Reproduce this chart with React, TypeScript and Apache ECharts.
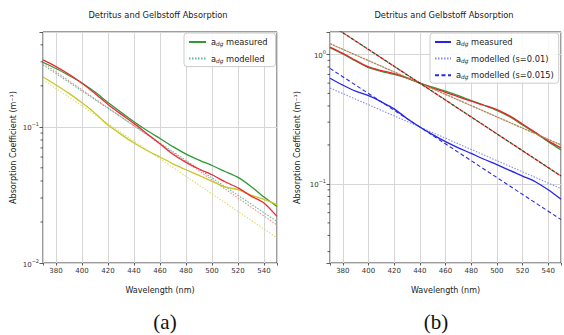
import React, { useEffect, useRef } from 'react';
import * as echarts from 'echarts';

// ---------- data ----------
const X_MIN = 370;
const X_MAX = 550;
const wavelengths = [370, 380, 390, 400, 410, 420, 430, 440, 450, 460, 470, 480, 490, 500, 510, 520, 530, 540, 550];
const modelWavelengths = [370, 460, 550];
const modelWavelengthsB = [370, 440, 550];

// (a) panel
const aGreenMeasured = [0.298, 0.268, 0.238, 0.21, 0.18, 0.151, 0.128, 0.109, 0.094, 0.082, 0.0715, 0.063, 0.057, 0.052, 0.047, 0.0425, 0.0365, 0.0305, 0.026];
const aRedMeasured = [0.31, 0.277, 0.243, 0.209, 0.176, 0.146, 0.124, 0.106, 0.089, 0.075, 0.0628, 0.0548, 0.049, 0.0445, 0.0395, 0.0356, 0.031, 0.0276, 0.022];
const aYellowMeasured = [0.232, 0.203, 0.176, 0.15, 0.126, 0.103, 0.088, 0.076, 0.067, 0.06, 0.0535, 0.0484, 0.044, 0.0398, 0.0362, 0.0346, 0.0315, 0.0293, 0.0268];
const aGreenModel = [0.285, 0.076, 0.0202];
const aRedModel = [0.295, 0.075, 0.019];
const aYellowModel = [0.222, 0.0583, 0.0153];

// (b) panel
const bRedMeasured = [1.14, 1.02, 0.9, 0.8, 0.75, 0.71, 0.66, 0.6, 0.55, 0.51, 0.47, 0.435, 0.405, 0.375, 0.335, 0.29, 0.25, 0.215, 0.19];
const bGreenMeasured = [1.13, 1.01, 0.89, 0.79, 0.74, 0.7, 0.655, 0.6, 0.56, 0.52, 0.48, 0.44, 0.405, 0.37, 0.33, 0.285, 0.248, 0.212, 0.183];
const bBlueMeasured = [0.655, 0.58, 0.52, 0.48, 0.43, 0.38, 0.32, 0.275, 0.24, 0.212, 0.19, 0.172, 0.155, 0.141, 0.127, 0.115, 0.104, 0.09, 0.076];
const bRedGreenModel01 = [1.21, 0.6, 0.2];
const bRedGreenModel015 = [1.71, 0.6, 0.115];
const bBlueModel01 = [0.55, 0.275, 0.092];
const bBlueModel015 = [0.78, 0.275, 0.053];

const aMinorTicks = [0.02, 0.03, 0.04, 0.05, 0.06, 0.07, 0.08, 0.09, 0.2, 0.3, 0.4];
const bMinorTicks = [0.03, 0.04, 0.05, 0.06, 0.07, 0.08, 0.09, 0.2, 0.3, 0.4, 0.5, 0.6, 0.7, 0.8, 0.9];

const TITLE = 'Detritus and Gelbstoff Absorption';
const X_NAME = 'Wavelength (nm)';
const Y_NAME = 'Absorption Coefficient (m⁻¹)';

const legendLabels: Record<string, string> = {
  aGreenMeas: 'a{s|dg} measured',
  aGreenMod: 'a{s|dg} modelled',
  bBlueMeas: 'a{s|dg} measured',
  bBlueMod01: 'a{s|dg} modelled (s=0.01)',
  bBlueMod015: 'a{s|dg} modelled (s=0.015)',
};

const FONT = 'DejaVu Sans';

function pairs(xs: number[], ys: number[]) {
  return xs.map((x, i) => [x, ys[i]]);
}

function line(name: string, xs: number[], ys: number[], color: string, type: any, width: number, idx: number, extra: any = {}) {
  return {
    type: 'line',
    name,
    xAxisIndex: idx,
    yAxisIndex: idx,
    data: pairs(xs, ys),
    symbol: 'none',
    showSymbol: false,
    silent: true,
    lineStyle: { color, type, width, ...(extra.lineStyle || {}) },
    itemStyle: { color },
    ...extra.rest,
  };
}

function minorTickSeries(values: number[], idx: number) {
  return {
    type: 'custom',
    xAxisIndex: idx,
    yAxisIndex: idx,
    silent: true,
    clip: false,
    data: values.map((v) => [X_MIN, v]),
    renderItem: (_p: any, api: any) => {
      const pt = api.coord([api.value(0), api.value(1)]);
      return {
        type: 'line',
        shape: { x1: pt[0] - 2.5, y1: pt[1], x2: pt[0], y2: pt[1] },
        style: { stroke: '#333', lineWidth: 0.8 },
      };
    },
  };
}

const logLabel = (v: number) => {
  const e = Math.log10(v);
  if (Math.abs(e - Math.round(e)) < 1e-6) {
    const r = Math.round(e);
    return `{b|10}{e|${r < 0 ? '−' + -r : r}}`;
  }
  return '';
};

function xAxis(idx: number) {
  return {
    type: 'value',
    gridIndex: idx,
    min: X_MIN,
    max: X_MAX,
    splitNumber: 9,
    name: X_NAME,
    nameLocation: 'middle',
    nameGap: 23,
    nameTextStyle: { fontFamily: FONT, fontSize: 8, color: '#222' },
    axisLine: { show: false },
    axisTick: { show: true, length: 2.5, lineStyle: { color: '#333', width: 0.8 } },
    axisLabel: {
      fontFamily: FONT,
      fontSize: 7,
      color: '#333',
      margin: 4,
      formatter: (v: number) => (v % 20 === 0 && v > X_MIN && v < X_MAX ? String(v) : ''),
    },
    splitLine: { show: true, lineStyle: { color: '#d6d6d6', width: 1 } },
  };
}

function yAxis(idx: number, min: number, max: number, gap: number) {
  return {
    type: 'log',
    logBase: 10,
    gridIndex: idx,
    min,
    max,
    name: Y_NAME,
    nameLocation: 'middle',
    nameGap: gap,
    nameTextStyle: { fontFamily: FONT, fontSize: 8, color: '#222' },
    axisLine: { show: false },
    axisTick: { show: true, length: 3.5, lineStyle: { color: '#333', width: 0.8 } },
    axisLabel: {
      fontFamily: FONT,
      color: '#333',
      margin: 4,
      formatter: logLabel,
      rich: {
        b: { fontFamily: FONT, fontSize: 7, color: '#333', lineHeight: 10, verticalAlign: 'bottom' },
        e: { fontFamily: FONT, fontSize: 5, color: '#333', verticalAlign: 'top' },
      },
    },
    splitLine: { show: true, lineStyle: { color: '#d6d6d6', width: 1 } },
  };
}

function legend(left: number, names: string[], itemWidth: number, padRight: number) {
  return {
    left,
    top: 33,
    orient: 'vertical',
    data: names,
    itemWidth,
    itemHeight: 9,
    itemGap: 6.6,
    padding: [4, padRight, 3, 4],
    borderColor: '#cccccc',
    borderWidth: 1,
    borderRadius: 3,
    backgroundColor: 'rgba(255,255,255,0.85)',
    selectedMode: false,
    itemStyle: { opacity: 0, borderWidth: 0 },
    formatter: (n: string) => legendLabels[n] || n,
    textStyle: {
      fontFamily: FONT,
      fontSize: 8.3,
      color: '#222',
      lineHeight: 10,
      rich: {
        s: { fontFamily: FONT, fontSize: 5.8, fontStyle: 'italic', color: '#222', verticalAlign: 'bottom', lineHeight: 7 },
      },
    },
  };
}

const option: any = {
  animation: false,
  backgroundColor: '#ffffff',
  grid: [
    { left: 43, top: 32, width: 234, height: 231, show: true, borderColor: '#3a3a3a', borderWidth: 1, backgroundColor: 'transparent' },
    { left: 330, top: 32, width: 234, height: 231, show: true, borderColor: '#3a3a3a', borderWidth: 1, backgroundColor: 'transparent' },
  ],
  xAxis: [xAxis(0), xAxis(1)],
  yAxis: [yAxis(0, 0.01, 0.497, 26), yAxis(1, 0.0245, 1.49, 29)],
  legend: [
    legend(184, ['aGreenMeas', 'aGreenMod'], 17, 8),
    legend(430, ['bBlueMeas', 'bBlueMod01', 'bBlueMod015'], 16, 5),
  ],
  graphic: [
    { type: 'text', x: 158, y: 15, style: { text: TITLE, fontFamily: FONT, fontSize: 8.3, fill: '#222', align: 'center', verticalAlign: 'middle' } },
    { type: 'text', x: 444, y: 15, style: { text: TITLE, fontFamily: FONT, fontSize: 8.3, fill: '#222', align: 'center', verticalAlign: 'middle' } },
    { type: 'text', x: 165, y: 322, style: { text: '(a)', fontFamily: 'Liberation Serif', fontSize: 21, fill: '#111', align: 'center', verticalAlign: 'middle' } },
    { type: 'text', x: 436, y: 322, style: { text: '(b)', fontFamily: 'Liberation Serif', fontSize: 21, fill: '#111', align: 'center', verticalAlign: 'middle' } },
  ],
  series: [
    // panel (a)
    line('aYellowMod', modelWavelengths, aYellowModel, '#dede70', [1.5, 1.5], 1.1, 0),
    line('aRedMod', modelWavelengths, aRedModel, '#f08a8a', [1.5, 1.5], 1.1, 0),
    line('aGreenMod', modelWavelengths, aGreenModel, '#5cb8a0', [1.5, 1.5], 1.1, 0),
    line('aGreenMeas', wavelengths, aGreenMeasured, '#2f9a35', 'solid', 1.3, 0, { rest: { smooth: 0.2 } }),
    line('aYellowMeas', wavelengths, aYellowMeasured, '#c9c62a', 'solid', 1.3, 0, { rest: { smooth: 0.2 } }),
    line('aRedMeas', wavelengths, aRedMeasured, '#ee2a35', 'solid', 1.3, 0, { rest: { smooth: 0.2 } }),
    minorTickSeries(aMinorTicks, 0),
    // panel (b)
    line('bGreenMeas', wavelengths, bGreenMeasured, '#2f9a35', 'solid', 1.3, 1, { rest: { smooth: 0.3 } }),
    line('bRedMeas', wavelengths, bRedMeasured, '#e8262e', 'solid', 1.3, 1, { rest: { smooth: 0.3 } }),
    line('bGreenMod01', modelWavelengthsB, bRedGreenModel01, '#6a9a4a', [1.5, 1.5], 1.2, 1),
    line('bRedMod01', modelWavelengthsB, bRedGreenModel01, '#e07a5a', [1.5, 1.5], 1.2, 1, { lineStyle: { dashOffset: 1.5 } }),
    line('bGreenMod015', modelWavelengthsB, bRedGreenModel015, '#1a4a1a', [2.5, 2.5], 1.3, 1),
    line('bRedMod015', modelWavelengthsB, bRedGreenModel015, '#dd2222', [2.5, 2.5], 1.3, 1, { lineStyle: { dashOffset: 2.5 } }),
    line('bBlueMod01', modelWavelengthsB, bBlueModel01, '#8a8af0', [1.5, 1.5], 1.1, 1),
    line('bBlueMod015', modelWavelengthsB, bBlueModel015, '#2a2ae6', [4, 2.5], 1.1, 1),
    line('bBlueMeas', wavelengths, bBlueMeasured, '#2525e8', 'solid', 1.3, 1, { rest: { smooth: 0.3 } }),
    minorTickSeries(bMinorTicks, 1),
  ],
};

export default function App() {
  const ref = useRef<HTMLDivElement>(null);
  useEffect(() => {
    if (!ref.current) return;
    const chart = echarts.init(ref.current, null, { renderer: 'svg' });
    chart.setOption(option);
    return () => chart.dispose();
  }, []);
  return (
    <div
      ref={ref}
      style={{ position: 'fixed', left: 0, top: 0, width: 564, height: 335, background: '#fff' }}
    />
  );
}
